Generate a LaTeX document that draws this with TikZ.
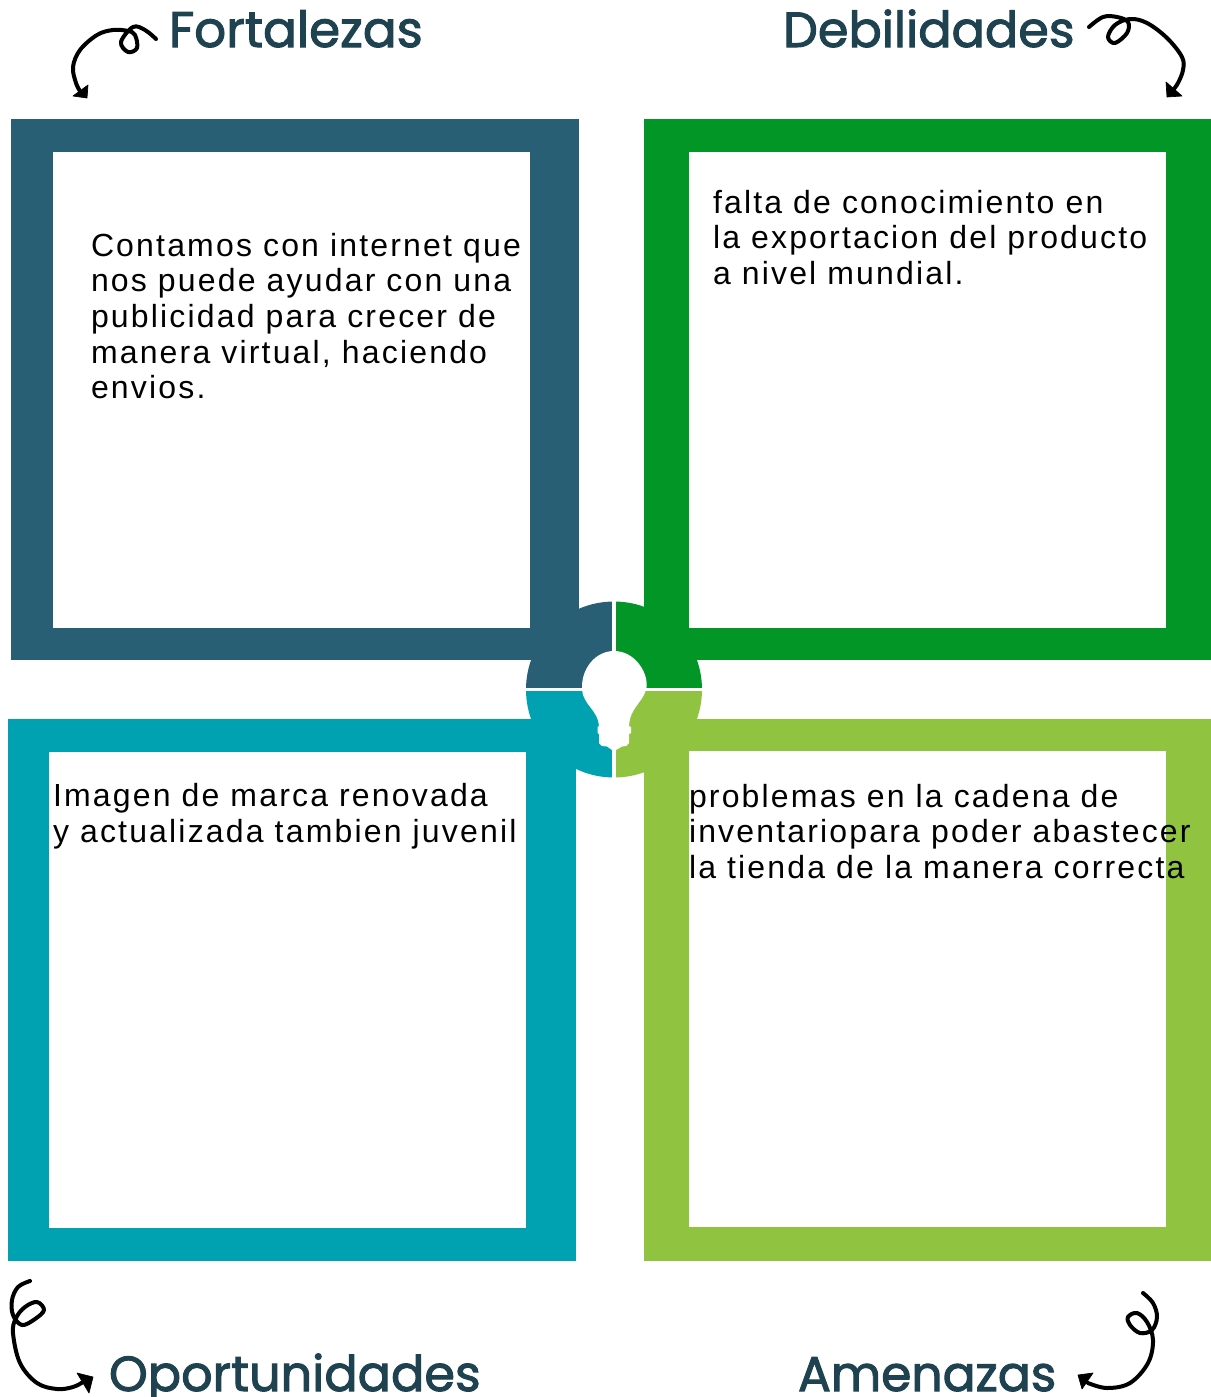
\documentclass[tikz,border=0pt]{standalone}
\usepackage{fontspec}
\setmainfont{Liberation Sans}[LetterSpace=6.8,Kerning=Off]
\newfontfamily\ttlfont{Poppins}[FakeBold=2]
\definecolor{cTL}{HTML}{285F74}
\definecolor{cTR}{HTML}{029626}
\definecolor{cBL}{HTML}{00A2B1}
\definecolor{cBR}{HTML}{90C440}
\definecolor{cTitle}{HTML}{1F4250}
\tikzset{
  x=0.75pt,y=-0.75pt,
  body/.style={anchor=base west,inner sep=0pt,outer sep=0pt,align=left,text=black,font=\fontsize{24pt}{26.7pt}\selectfont},
  titletext/.style={anchor=base west,inner sep=0pt,outer sep=0pt,text=cTitle,font=\ttlfont\fontsize{37pt}{40pt}\selectfont},
  scribble/.style={draw=black,line width=3pt,line cap=round,line join=round},
  tiphead/.style={fill=black,draw=black,line width=0.5pt,line join=round},
  gapline/.style={draw=white,line width=2.5pt}
}
\begin{document}
\begin{tikzpicture}
\useasboundingbox (0,0) rectangle (1211,1397);
% frames
\fill[cTL] (11,119) rectangle (579,660);
\fill[white] (53,152) rectangle (530,628);
\fill[cTR] (644,119) rectangle (1211,660);
\fill[white] (689,152) rectangle (1166,628);
\fill[cBL] (8,719) rectangle (576,1261);
\fill[white] (49,752) rectangle (526,1228);
\fill[cBR] (644,719) rectangle (1211,1261);
\fill[white] (689,751) rectangle (1166,1227);
% hub
\coordinate (hub) at (614,689.5);
\fill[cTL] (hub) -- (526,689.5) arc[start angle=180,end angle=270,radius=88] -- cycle;
\fill[cTR] (hub) -- (614,601.5) arc[start angle=270,end angle=360,radius=88] -- cycle;
\fill[cBR] (hub) -- (702,689.5) arc[start angle=0,end angle=90,radius=88] -- cycle;
\fill[cBL] (hub) -- (614,777.5) arc[start angle=90,end angle=180,radius=88] -- cycle;
\draw[gapline] (525,689.5) -- (703,689.5);
\draw[gapline] (614,600) -- (614,779);
% bulb
\fill[white] (583,695) .. controls (578,675) and (592,651) .. (614,651)
  .. controls (636,651) and (650,675) .. (646,690)
  .. controls (642,703) and (630,708) .. (629,726)
  -- (631,727) -- (631,733) -- (629,734) -- (629,743)
  .. controls (628,746) and (626,746) .. (622,746.5)
  -- (616,750) -- (612,750) -- (607,746.5)
  .. controls (602,746) and (600,746) .. (599,743)
  -- (599,734) -- (597.5,733) -- (597.5,727) -- (599,726)
  .. controls (598,712) and (588,708) .. (583,695) -- cycle;
% body text
\node[body] (t1) at (91,398.7) {Contamos con internet que\\nos puede ayudar con una\\publicidad para crecer de\\manera virtual, haciendo\\envios.};
\node[body] (t2) at (713,284.2) {falta de conocimiento en\\la exportacion del producto\\a nivel mundial.};
\node[body] (t3) at (53,842.5) {Imagen de marca renovada\\y actualizada tambien juvenil};
\node[body] (t4) at (689,878.2) {problemas en la cadena de\\inventariopara poder abastecer\\la tienda de la manera correcta};
% titles
\node[titletext,font=\ttlfont\fontsize{37.5pt}{40pt}\selectfont] (n1) at (169,47) {Fortalezas};
\node[titletext] (n2) at (783,47) {Debilidades};
\node[titletext] (n3) at (109,1391) {Oportunidades};
\node[titletext,font=\ttlfont\fontsize{36.6pt}{40pt}\selectfont] (n4) at (798,1391) {Amenazas};
% arrows
\draw[scribble] plot[smooth,tension=0.6] coordinates {(156,39) (145,30) (133,27) (121,42) (128,52) (137,48) (135,35) (128,31) (113,30) (97,35) (80,50) (73,67) (76,83) (80,91)};
\fill[tiphead] (88,85) -- (73,96) -- (87,98) -- cycle;
\draw[scribble] plot[smooth,tension=0.6] coordinates {(1089,27) (1103,17) (1117,17) (1128,22) (1127,33) (1115,43) (1108,37) (1115,25) (1130,19) (1147,23) (1167,38) (1182,57) (1183,70) (1178,83) (1173,90)};
\fill[tiphead] (1166,82) -- (1167,97) -- (1182,96) -- cycle;
\draw[scribble] plot[smooth,tension=0.6] coordinates {(30,1281) (18,1287) (12,1300) (13,1315) (22,1325) (35,1319) (44,1310) (37,1302) (25,1307) (16,1318) (13,1333) (20,1363) (37,1383) (57,1389) (73,1387) (83,1382)};
\fill[tiphead] (77,1373) -- (93,1377) -- (89,1393) -- cycle;
\draw[scribble] plot[smooth,tension=0.6] coordinates {(1143,1293) (1153,1303) (1157,1317) (1152,1330) (1140,1333) (1130,1325) (1128,1317) (1137,1313) (1147,1322) (1153,1340) (1148,1363) (1130,1383) (1107,1388) (1088,1383)};
\fill[tiphead] (1078,1375) -- (1093,1373) -- (1082,1389) -- cycle;
\end{tikzpicture}
\end{document}
